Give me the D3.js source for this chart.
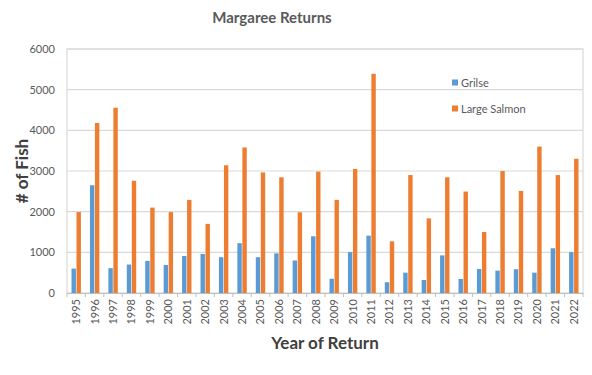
<!DOCTYPE html>
<html lang="en">
<head>
<meta charset="utf-8">
<title>Margaree Returns</title>
<script src="https://cdn.jsdelivr.net/npm/d3@7"></script>
<style>
  body { margin: 0; background: #fff; }
  text { font-family: Lato, "Open Sans", sans-serif; }
</style>
</head>
<body>
<script>
// data
var years = ["1995","1996","1997","1998","1999","2000","2001","2002","2003","2004",
  "2005","2006","2007","2008","2009","2010","2011","2012","2013","2014",
  "2015","2016","2017","2018","2019","2020","2021","2022"];
var grilse = [600,2650,610,700,790,690,910,960,880,1225,
  880,975,800,1395,350,1005,1410,265,500,320,
  925,345,590,550,585,500,1100,1005];
var largeSalmon = [1990,4180,4555,2760,2100,1990,2290,1700,3140,3580,
  2965,2845,1985,2985,2290,3050,5390,1270,2900,1835,
  2845,2495,1500,3000,2510,3600,2900,3300];
var yTicks = [0,1000,2000,3000,4000,5000,6000];
var seriesNames = ["Grilse","Large Salmon"];
var colors = ["#5B9BD5","#ED7D31"];

var W = 592, H = 375;
// plot area edges (note: "top" is reserved on window, so use p*)
var pLeft = 67, pRight = 583, pTop = 49, pBottom = 293;

var svg = d3.select("body").append("svg")
  .attr("width", W).attr("height", H);

var x = d3.scaleBand().domain(years).range([pLeft, pRight]);
var y = d3.scaleLinear().domain([0, 6000]).range([pBottom, pTop]);

// gridlines
svg.append("g").selectAll("line")
  .data(yTicks.slice(1))
  .enter().append("line")
  .attr("x1", pLeft).attr("x2", pRight)
  .attr("y1", function(d){ return y(d); })
  .attr("y2", function(d){ return y(d); })
  .attr("stroke", "#d9d9d9").attr("stroke-width", 1.2);

// plot frame
svg.append("rect")
  .attr("x", pLeft).attr("y", pTop)
  .attr("width", pRight - pLeft).attr("height", pBottom - pTop)
  .attr("fill", "none").attr("stroke", "#d9d9d9").attr("stroke-width", 1.2);

// bars
var bw = 4.4;
var groups = svg.append("g").selectAll("g")
  .data(years)
  .enter().append("g");

groups.append("rect")
  .attr("x", function(d){ return x(d) + x.bandwidth()/2 - bw - 0.3; })
  .attr("y", function(d,i){ return y(grilse[i]); })
  .attr("width", bw)
  .attr("height", function(d,i){ return pBottom - y(grilse[i]); })
  .attr("fill", colors[0]);

groups.append("rect")
  .attr("x", function(d){ return x(d) + x.bandwidth()/2 + 0.3; })
  .attr("y", function(d,i){ return y(largeSalmon[i]); })
  .attr("width", bw)
  .attr("height", function(d,i){ return pBottom - y(largeSalmon[i]); })
  .attr("fill", colors[1]);

// x axis
var xAxis = svg.append("g")
  .attr("transform", "translate(0," + pBottom + ")")
  .call(d3.axisBottom(x).tickSize(0).tickPadding(0));
xAxis.select(".domain").attr("stroke", "#bfbfbf").attr("stroke-width", 1.2);
xAxis.selectAll("text")
  .attr("transform", "rotate(-90)")
  .attr("text-anchor", "end")
  .attr("x", -6).attr("y", 0).attr("dy", "0.35em")
  .attr("fill", "#595959")
  .style("font-size", "11px");
// category separators below axis
svg.append("g").selectAll("line")
  .data(years.concat(["end"]))
  .enter().append("line")
  .attr("x1", function(d,i){ return pLeft + i * x.step(); })
  .attr("x2", function(d,i){ return pLeft + i * x.step(); })
  .attr("y1", pBottom).attr("y2", pBottom + 4)
  .attr("stroke", "#bfbfbf");

// y axis labels
var yAxis = svg.append("g")
  .attr("transform", "translate(" + pLeft + ",0)")
  .call(d3.axisLeft(y).tickValues(yTicks).tickSize(0).tickPadding(12)
    .tickFormat(d3.format("d")));
yAxis.select(".domain").remove();
yAxis.selectAll("text").attr("fill", "#595959").style("font-size", "11px");

// titles
svg.append("text")
  .attr("x", 272).attr("y", 23)
  .attr("text-anchor", "middle")
  .attr("fill", "#595959")
  .style("font-size", "15px").style("font-weight", "bold")
  .text("Margaree Returns");

svg.append("text")
  .attr("x", 325).attr("y", 349)
  .attr("text-anchor", "middle")
  .attr("fill", "#404040")
  .style("font-size", "17px").style("font-weight", "bold")
  .text("Year of Return");

svg.append("text")
  .attr("transform", "translate(28,171) rotate(-90)")
  .attr("text-anchor", "middle")
  .attr("fill", "#404040")
  .style("font-size", "17px").style("font-weight", "bold")
  .text("# of Fish");

// legend
var legend = svg.append("g").selectAll("g")
  .data(seriesNames)
  .enter().append("g")
  .attr("transform", function(d,i){ return "translate(452," + (83 + i * 26) + ")"; });
legend.append("rect")
  .attr("x", 0).attr("y", -3.5).attr("width", 6).attr("height", 6)
  .attr("fill", function(d,i){ return colors[i]; });
legend.append("text")
  .attr("x", 9).attr("y", 0).attr("dy", "0.35em")
  .attr("fill", "#595959")
  .style("font-size", "11px")
  .text(function(d){ return d; });
</script>
</body>
</html>
